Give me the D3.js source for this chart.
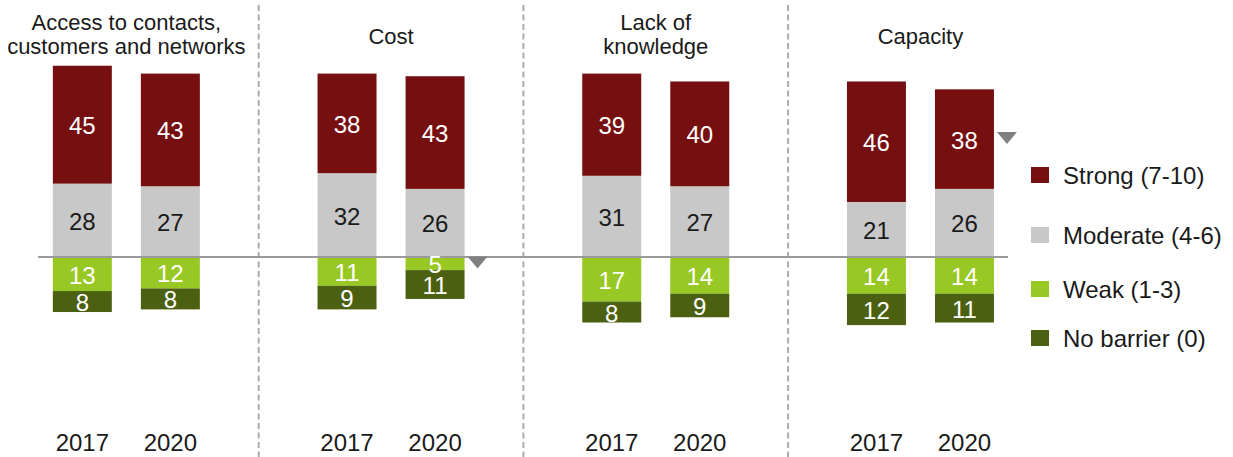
<!DOCTYPE html>
<html>
<head>
<meta charset="utf-8">
<script src="https://cdn.jsdelivr.net/npm/d3@7"></script>
<style>
  html, body { margin: 0; padding: 0; background: #fff; }
  svg { display: block; font-family: "Liberation Sans", Arial, sans-serif; }
</style>
</head>
<body>
<svg id="chart" width="1233" height="457"></svg>
<script>
// Barrier categories (title lines) and survey years
const barriers = ["Access", "Cost", "Knowledge", "Capacity"];
const barrierTitles = [
  ["Access to contacts,", "customers and networks"],
  ["Cost"],
  ["Lack of", "knowledge"],
  ["Capacity"]
];
const years = ["2017", "2020"];

// Share of respondents (%) per rating band, one entry per barrier, [2017, 2020]
const strong   = [[45, 43], [38, 43], [39, 40], [46, 38]];
const moderate = [[28, 27], [32, 26], [31, 27], [21, 26]];
const weak     = [[13, 12], [11, 5],  [17, 14], [14, 14]];
const noBarrier= [[8, 8],   [9, 11],  [8, 9],   [12, 11]];

const legendLabels = ["Strong (7-10)", "Moderate (4-6)", "Weak (1-3)", "No barrier (0)"];

// Segments flagged with a decline marker: [barrier index, year index, band]
const declineMarks = [[1, 1, "weak"], [3, 1, "strong"]];

const colors = {
  strong: "#760F0F",
  moderate: "#C8C8C8",
  weak: "#98C823",
  noBarrier: "#4B6111"
};
const textColors = { strong: "#fff", moderate: "#1a1a1a", weak: "#fff", noBarrier: "#fff" };

const svg = d3.select("#chart");

// Scales
const y = d3.scaleLinear().domain([0, 100]).range([257, -5]);
const xGroup = d3.scaleBand().domain(barriers).range([-6, 1052.8]).padding(0);
const xYear = d3.scaleBand().domain(years).range([0, 147]).paddingInner(0.33).paddingOuter(0);
const groupStart = b => xGroup(b) + xGroup.bandwidth() / 2 - 73.5;

// Dashed separators between barrier groups
barriers.slice(1).forEach(b => {
  svg.append("line")
    .attr("x1", xGroup(b)).attr("x2", xGroup(b))
    .attr("y1", 5).attr("y2", 457)
    .attr("stroke", "#ABABAB")
    .attr("stroke-width", 2)
    .attr("stroke-dasharray", "6,3.5");
});

// Build segments: positive bands stack upward, negative bands downward from zero
const segments = [];
barriers.forEach((b, bi) => {
  years.forEach((yr, yi) => {
    const s = strong[bi][yi], m = moderate[bi][yi], w = weak[bi][yi], n = noBarrier[bi][yi];
    const x0 = groupStart(b) + xYear(yr);
    segments.push({ bi, yi, key: "moderate", v: m, lo: 0, hi: m, x: x0 });
    segments.push({ bi, yi, key: "strong", v: s, lo: m, hi: m + s, x: x0 });
    segments.push({ bi, yi, key: "weak", v: w, lo: -w, hi: 0, x: x0 });
    segments.push({ bi, yi, key: "noBarrier", v: n, lo: -w - n, hi: -w, x: x0 });
  });
});

const bw = xYear.bandwidth();

svg.append("g").selectAll("rect")
  .data(segments)
  .join("rect")
  .attr("x", d => d.x)
  .attr("y", d => y(d.hi))
  .attr("width", bw)
  .attr("height", d => y(d.lo) - y(d.hi))
  .attr("fill", d => colors[d.key]);

// Zero line
svg.append("line")
  .attr("x1", 38).attr("x2", 1008)
  .attr("y1", y(0)).attr("y2", y(0))
  .attr("stroke", "#9A9A9A")
  .attr("stroke-width", 2);

// Segment value labels
svg.append("g").selectAll("text")
  .data(segments)
  .join("text")
  .attr("x", d => d.x + bw / 2)
  .attr("y", d => (y(d.lo) + y(d.hi)) / 2 + 1)
  .attr("text-anchor", "middle")
  .attr("dominant-baseline", "central")
  .attr("font-size", 24)
  .attr("fill", d => textColors[d.key])
  .text(d => d.v);

// Decline markers (downward triangles beside the flagged segment)
declineMarks.forEach(([bi, yi, key]) => {
  const seg = segments.find(s => s.bi === bi && s.yi === yi && s.key === key);
  const cx = seg.x + bw + 13;
  const cy = (y(seg.lo) + y(seg.hi)) / 2 - 1;
  svg.append("path")
    .attr("d", `M${cx - 10},${cy - 6} L${cx + 10},${cy - 6} L${cx},${cy + 6} Z`)
    .attr("fill", "#808080");
});

// Group titles
barriers.forEach((b, bi) => {
  const lines = barrierTitles[bi];
  const cx = xGroup(b) + xGroup.bandwidth() / 2;
  const baseY = lines.length === 2 ? 30 : 44;
  const t = svg.append("text")
    .attr("text-anchor", "middle")
    .attr("font-size", 22)
    .attr("fill", "#1a1a1a");
  lines.forEach((ln, li) => {
    t.append("tspan").attr("x", cx).attr("y", baseY + li * 24).text(ln);
  });
});

// Year labels
barriers.forEach(b => {
  years.forEach(yr => {
    svg.append("text")
      .attr("x", groupStart(b) + xYear(yr) + bw / 2)
      .attr("y", 451)
      .attr("text-anchor", "middle")
      .attr("font-size", 24)
      .attr("fill", "#1a1a1a")
      .text(yr);
  });
});

// Legend
const legendKeys = ["strong", "moderate", "weak", "noBarrier"];
const legendRowY = [175, 235, 289, 338];
const legend = svg.append("g");
legendKeys.forEach((k, i) => {
  legend.append("rect")
    .attr("x", 1031).attr("y", legendRowY[i] - 8)
    .attr("width", 18).attr("height", 16)
    .attr("fill", colors[k]);
  legend.append("text")
    .attr("x", 1063).attr("y", legendRowY[i])
    .attr("dominant-baseline", "central")
    .attr("font-size", 24)
    .attr("fill", "#1a1a1a")
    .text(legendLabels[i]);
});
</script>
</body>
</html>
